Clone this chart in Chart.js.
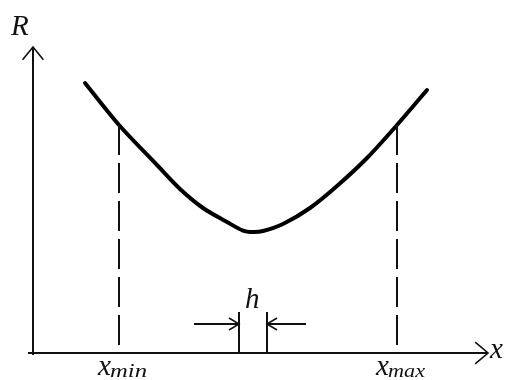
<!DOCTYPE html>
<html>
<head>
<meta charset="utf-8">
<script src="https://cdn.jsdelivr.net/npm/chart.js@4/dist/chart.umd.min.js"></script>
<style>
  html, body { margin: 0; padding: 0; background: #fff; }
  canvas { display: block; }
</style>
</head>
<body>
<canvas id="grafica" width="508" height="380"></canvas>
<script>
// Curva R(x), en unidades del dibujo
const curvaX = [1.3, 2.15, 3.1, 3.675, 4.25, 4.85, 5.25, 5.5, 5.75, 6.25, 6.925, 7.6, 8.35, 9.1, 9.85];
const curvaR = [6.75, 5.7, 4.7, 4.1, 3.625, 3.275, 3.06, 3.025, 3.05, 3.225, 3.625, 4.175, 4.875, 5.7, 6.575];

// Límites del intervalo y paso h
const xMin = 2.15;
const xMax = 9.1;
const hIni = 5.15;
const hFin = 5.85;

// Extremos de los ejes
const ejeXFin = 11.375;
const ejeYFin = 7.65;

const NEGRO = '#111';

const pts = (xs, ys) => xs.map((x, i) => ({ x, y: ys[i] }));

function segmento(puntos, extra = {}) {
    return Object.assign({
        data: puntos,
        showLine: true,
        borderColor: NEGRO,
        borderWidth: 2,
        pointRadius: 0,
        tension: 0,
        fill: false
    }, extra);
}

// Cabeza de flecha: dos patas que llegan a la punta
function flecha(px, py, dx, dy, abierto) {
    return segmento([
        { x: px - dx + (dy ? abierto : 0), y: py - dy + (dx ? abierto : 0) },
        { x: px, y: py },
        { x: px - dx - (dy ? abierto : 0), y: py - dy - (dx ? abierto : 0) }
    ], { borderWidth: 1.6 });
}

// Alturas de la curva en xMin y xMax
const rEn = (x) => curvaR[curvaX.indexOf(x)];
const hAlto = 1.025;
const hNivel = 0.725;

const datasets = [
    // ejes
    segmento([{ x: -0.125, y: 0 }, { x: ejeXFin, y: 0 }]),
    segmento([{ x: 0, y: -0.05 }, { x: 0, y: ejeYFin }]),
    flecha(ejeXFin, 0, 0.32, 0, 0.27),
    flecha(0, ejeYFin, 0, 0.32, 0.26),
    // líneas discontinuas en xMin y xMax
    segmento([{ x: xMin, y: rEn(xMin) }, { x: xMin, y: 0 }], { borderDash: [30, 8] }),
    segmento([{ x: xMax, y: rEn(xMax) }, { x: xMax, y: 0 }], { borderDash: [30, 8] }),
    // paso h
    segmento([{ x: hIni, y: 0 }, { x: hIni, y: hAlto }]),
    segmento([{ x: hFin, y: 0 }, { x: hFin, y: hAlto }]),
    segmento([{ x: 4.025, y: hNivel }, { x: hIni, y: hNivel }]),
    segmento([{ x: 6.825, y: hNivel }, { x: hFin, y: hNivel }]),
    flecha(hIni, hNivel, 0.25, 0, 0.15),
    flecha(hFin, hNivel, -0.25, 0, 0.15),
    // curva
    segmento(pts(curvaX, curvaR), { borderWidth: 4, tension: 0.3, borderColor: '#000', borderCapStyle: 'round' })
];

const SERIF = 'italic {t}px "Liberation Serif", "Times New Roman", serif';
const fuente = (t) => SERIF.replace('{t}', t);

const etiquetas = {
    id: 'etiquetas',
    afterDatasetsDraw(chart) {
        const { ctx, scales: { x, y } } = chart;
        const px = (v) => x.getPixelForValue(v);
        const py = (v) => y.getPixelForValue(v);
        ctx.save();
        ctx.fillStyle = NEGRO;
        ctx.textBaseline = 'alphabetic';

        ctx.font = fuente(29);
        ctx.textAlign = 'left';
        ctx.fillText('R', px(0) - 22, 35);
        ctx.fillText('h', px(hIni) + 6, py(hAlto) - 4);
        ctx.fillText('x', px(ejeXFin) + 2, py(0) + 5);

        // subíndice ensanchado hasta ~37px
        const conSub = (v, sub) => {
            ctx.font = fuente(29);
            ctx.fillText('x', px(v) - 21, py(0) + 22);
            ctx.font = fuente(19);
            const w = ctx.measureText(sub).width;
            ctx.save();
            ctx.translate(px(v) - 9, py(0) + 24);
            ctx.scale(37 / w, 1);
            ctx.fillText(sub, 0, 0);
            ctx.restore();
        };
        conSub(xMin, 'min');
        conSub(xMax, 'max');
        ctx.restore();
    }
};

new Chart(document.getElementById('grafica'), {
    type: 'scatter',
    data: { datasets },
    options: {
        responsive: false,
        animation: false,
        layout: { padding: 0 },
        plugins: { legend: { display: false }, tooltip: { enabled: false } },
        scales: {
            x: { type: 'linear', min: -0.825, max: 11.875, display: false },
            y: { type: 'linear', min: -0.675, max: 8.825, display: false }
        }
    },
    plugins: [etiquetas]
});
</script>
</body>
</html>
